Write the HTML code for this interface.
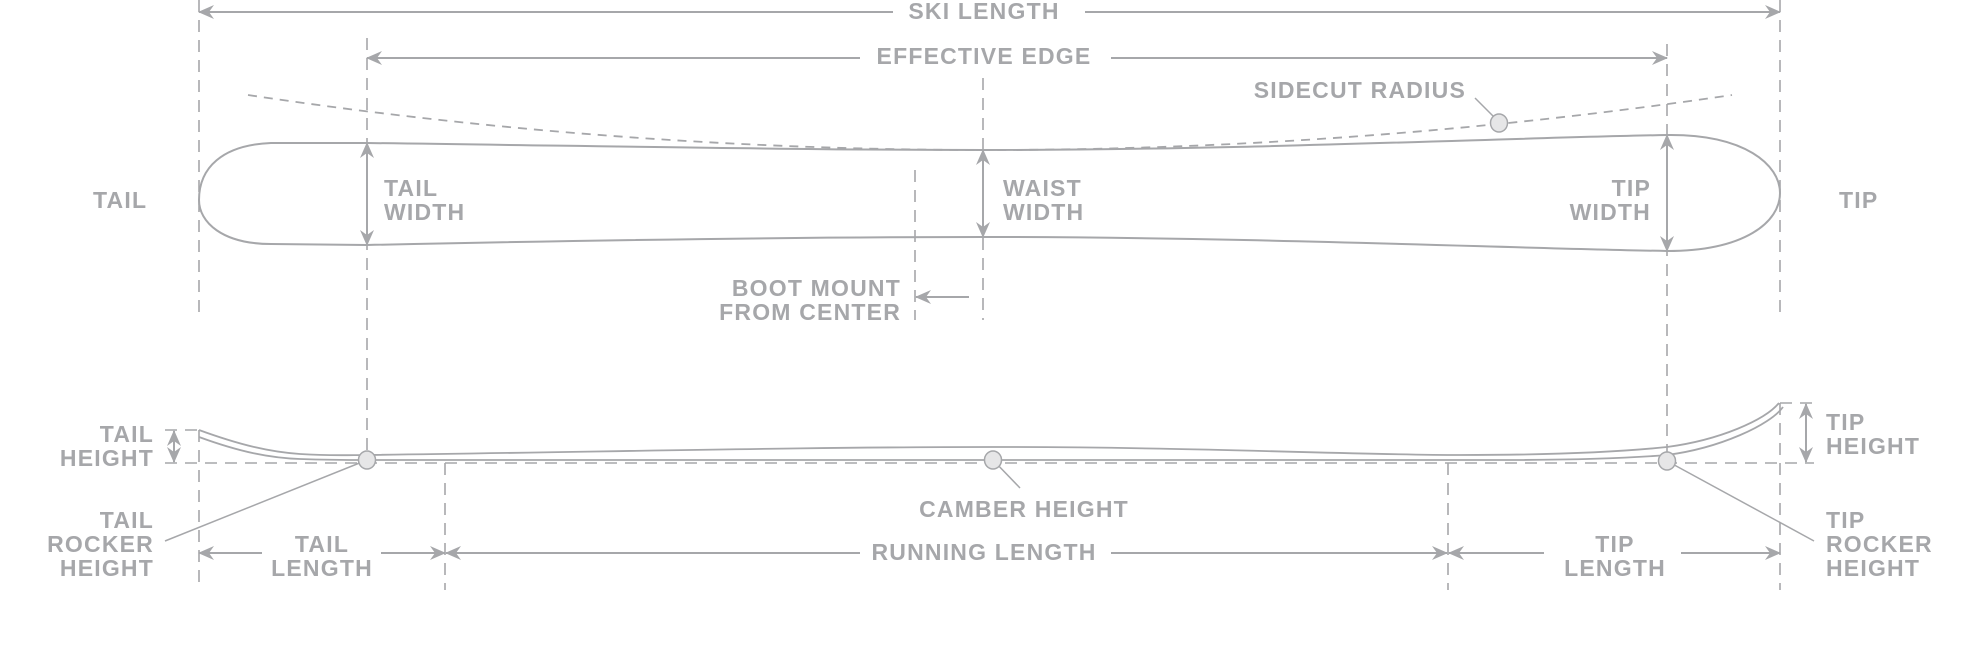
<!DOCTYPE html>
<html><head><meta charset="utf-8"><style>
html,body{margin:0;padding:0;background:#fff;}
svg{display:block;}
text{font-family:"Liberation Sans",Arial,sans-serif;font-weight:bold;font-size:23px;fill:#a6a7aa;letter-spacing:1.2px;}
</style></head><body>
<svg width="1980" height="650" viewBox="0 0 1980 650" xmlns="http://www.w3.org/2000/svg">
<defs>
<marker id="a" markerWidth="16" markerHeight="14" refX="15" refY="7" orient="auto-start-reverse" markerUnits="userSpaceOnUse">
<path d="M0,0 L16,7 L0,14 L5,7 Z" fill="#a6a7aa"/></marker>
</defs>
<g stroke="#a6a7aa" stroke-width="2" fill="none">
<g stroke-dasharray="12,8" stroke-width="1.6">
<line x1="199" y1="0" x2="199" y2="320"/>
<line x1="367" y1="38" x2="367" y2="455"/>
<line x1="915" y1="170" x2="915" y2="320"/>
<line x1="983" y1="78" x2="983" y2="320"/>
<line x1="1667" y1="44" x2="1667" y2="455"/>
<line x1="1780" y1="0" x2="1780" y2="320"/>
<line x1="199" y1="430" x2="199" y2="590"/>
<line x1="445" y1="463" x2="445" y2="590"/>
<line x1="1448" y1="463" x2="1448" y2="590"/>
<line x1="1780" y1="403" x2="1780" y2="590"/>
<line x1="165" y1="463" x2="1814" y2="463"/>
<line x1="165" y1="430" x2="199" y2="430"/>
<line x1="1780" y1="403" x2="1814" y2="403"/>
</g>
<path d="M248,95 Q983,205 1732,95" stroke-dasharray="9,7" stroke-width="1.8"/>
<line x1="199" y1="12" x2="893" y2="12" marker-start="url(#a)"/>
<line x1="1085" y1="12" x2="1780" y2="12" marker-end="url(#a)"/>
<line x1="367" y1="58" x2="860" y2="58" marker-start="url(#a)"/>
<line x1="1111" y1="58" x2="1667" y2="58" marker-end="url(#a)"/>
<path d="M271,143 L367,143 C600,146 800,150 983,150 C1250,150 1500,138 1667,135 C1745,134 1780,165 1780,193 C1780,222 1745,251 1667,251 C1500,248 1250,237 983,237 C800,237 600,240 367,245 L271,244 C222,244 199,222 199,200 C199,168 222,145 271,143 Z"/>
<line x1="367" y1="143" x2="367" y2="245" marker-start="url(#a)" marker-end="url(#a)"/>
<line x1="983" y1="150" x2="983" y2="237" marker-start="url(#a)" marker-end="url(#a)"/>
<line x1="1667" y1="135" x2="1667" y2="251" marker-start="url(#a)" marker-end="url(#a)"/>
<line x1="969" y1="297" x2="916" y2="297" marker-end="url(#a)"/>
<line x1="1475" y1="98" x2="1493" y2="116" stroke-width="1.5"/>
<path d="M199,430 C240,445 270,452 300,454 C330,456 350,455 367,455 C600,452 800,447 993,447 C1200,447 1350,455 1460,455 C1560,455 1620,452 1667,447 C1720,440 1765,420 1779,403" stroke-width="1.8"/>
<path d="M199,437 C240,452 270,458 300,459 C330,460 350,460 367,460 L993,460 C1200,460 1400,460 1500,460 C1580,460 1630,458 1667,455 C1720,448 1770,425 1783,407" stroke-width="1.8"/>
<line x1="174" y1="431" x2="174" y2="462" marker-start="url(#a)" marker-end="url(#a)"/>
<line x1="1806" y1="404" x2="1806" y2="462" marker-start="url(#a)" marker-end="url(#a)"/>
<line x1="165" y1="541" x2="367" y2="460" stroke-width="1.5"/>
<line x1="1667" y1="461" x2="1814" y2="541" stroke-width="1.5"/>
<line x1="993" y1="460" x2="1020" y2="488" stroke-width="1.5"/>
<line x1="199" y1="553" x2="262" y2="553" marker-start="url(#a)"/>
<line x1="381" y1="553" x2="445" y2="553" marker-end="url(#a)"/>
<line x1="446" y1="553" x2="860" y2="553" marker-start="url(#a)"/>
<line x1="1111" y1="553" x2="1447" y2="553" marker-end="url(#a)"/>
<line x1="1449" y1="553" x2="1544" y2="553" marker-start="url(#a)"/>
<line x1="1681" y1="553" x2="1780" y2="553" marker-end="url(#a)"/>
</g>
<g fill="#e6e6e7" stroke="#a6a7aa" stroke-width="1.5">
<ellipse cx="1499" cy="123" rx="8.5" ry="9"/>
<ellipse cx="367" cy="460" rx="8.5" ry="9"/>
<ellipse cx="993" cy="460" rx="8.5" ry="9"/>
<ellipse cx="1667" cy="461" rx="8.5" ry="9"/>
</g>
<g dominant-baseline="central">
<text x="984" y="11" text-anchor="middle">SKI LENGTH</text>
<text x="984" y="56" text-anchor="middle">EFFECTIVE EDGE</text>
<text x="1466" y="90" text-anchor="end">SIDECUT RADIUS</text>
<text x="93" y="200">TAIL</text>
<text x="1839" y="200">TIP</text>
<text x="384" y="188">TAIL</text><text x="384" y="212">WIDTH</text>
<text x="1003" y="188">WAIST</text><text x="1003" y="212">WIDTH</text>
<text x="1651" y="188" text-anchor="end">TIP</text><text x="1651" y="212" text-anchor="end">WIDTH</text>
<text x="901" y="288" text-anchor="end">BOOT MOUNT</text><text x="901" y="312" text-anchor="end">FROM CENTER</text>
<text x="154" y="434" text-anchor="end">TAIL</text><text x="154" y="458" text-anchor="end">HEIGHT</text>
<text x="1826" y="422">TIP</text><text x="1826" y="446">HEIGHT</text>
<text x="1024" y="509" text-anchor="middle">CAMBER HEIGHT</text>
<text x="154" y="520" text-anchor="end">TAIL</text><text x="154" y="544" text-anchor="end">ROCKER</text><text x="154" y="568" text-anchor="end">HEIGHT</text>
<text x="1826" y="520">TIP</text><text x="1826" y="544">ROCKER</text><text x="1826" y="568">HEIGHT</text>
<text x="322" y="544" text-anchor="middle">TAIL</text><text x="322" y="568" text-anchor="middle">LENGTH</text>
<text x="984" y="552" text-anchor="middle">RUNNING LENGTH</text>
<text x="1615" y="544" text-anchor="middle">TIP</text><text x="1615" y="568" text-anchor="middle">LENGTH</text>
</g>
</svg>
</body></html>
